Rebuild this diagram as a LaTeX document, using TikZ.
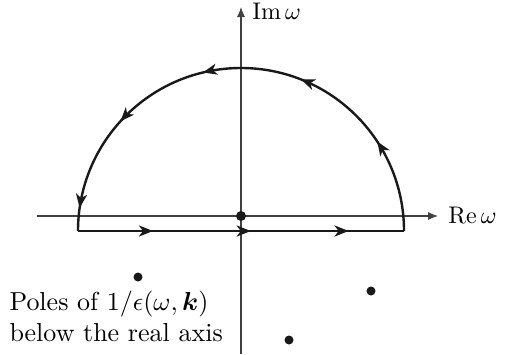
\documentclass[tikz,border=0pt]{standalone}
\usepackage{amsmath}
\usetikzlibrary{arrows.meta,decorations.markings}
\begin{document}
\begin{tikzpicture}[x=1pt,y=-1pt,
  axis/.style={line width=1.1pt,black!75},
  contour/.style={line width=2.4pt,black!90,line join=miter},
  pole/.style={circle,fill=black!90,inner sep=0pt,minimum size=9pt},
  lbl/.style={font=\fontsize{10}{12}\selectfont,inner sep=0pt,scale=2.4,transform shape},
  big/.style={font=\fontsize{10}{12}\selectfont,inner sep=0pt,scale=2.6,transform shape},
]
\useasboundingbox (0,0) rectangle (505,354);
\coordinate (xl) at (37,216);
\coordinate (xr) at (438,216);
\coordinate (yb) at (241,354);
\coordinate (yt) at (241,7);
\draw[axis,-{Latex[length=10pt,width=8pt]}] (xl) -- (xr);
\draw[axis,-{Latex[length=10pt,width=8pt]}] (yb) -- (yt);
\node[lbl,anchor=base west] (re) at (448,223) {$\mathrm{Re}\,\omega$};
\node[lbl,anchor=base west] (im) at (252,19) {$\mathrm{Im}\,\omega$};
\coordinate (A) at (78,231);
\coordinate (B) at (404,231);
\draw[contour,postaction={decorate},decoration={markings,
  mark=at position 0.23 with {\arrow{Stealth[length=14pt,width=11pt,inset=4pt]}},
  mark=at position 0.53 with {\arrow{Stealth[length=14pt,width=11pt,inset=4pt]}},
  mark=at position 0.83 with {\arrow{Stealth[length=14pt,width=11pt,inset=4pt]}}}]
  (A) -- (B);
\draw[contour,postaction={decorate},decoration={markings,
  mark=at position 0.185 with {\arrow{Stealth[length=14pt,width=11pt,inset=4pt]}},
  mark=at position 0.38 with {\arrow{Stealth[length=14pt,width=11pt,inset=4pt]}},
  mark=at position 0.575 with {\arrow{Stealth[length=14pt,width=11pt,inset=4pt]}},
  mark=at position 0.765 with {\arrow{Stealth[length=14pt,width=11pt,inset=4pt]}},
  mark=at position 0.955 with {\arrow{Stealth[length=14pt,width=11pt,inset=4pt]}}}]
  (B) arc[start angle=0,end angle=-180,radius=163];
\node[pole,minimum size=10pt] (o) at (241,216) {};
\node[pole] (p1) at (138,277) {};
\node[pole] (p2) at (371,291) {};
\node[pole] (p3) at (289,340) {};
\node[big,anchor=base west] (t1) at (9,310) {Poles of $1/\epsilon(\omega,\boldsymbol{k})$};
\node[big,anchor=base west] (t2) at (9,341) {below the real axis};
\end{tikzpicture}
\end{document}
